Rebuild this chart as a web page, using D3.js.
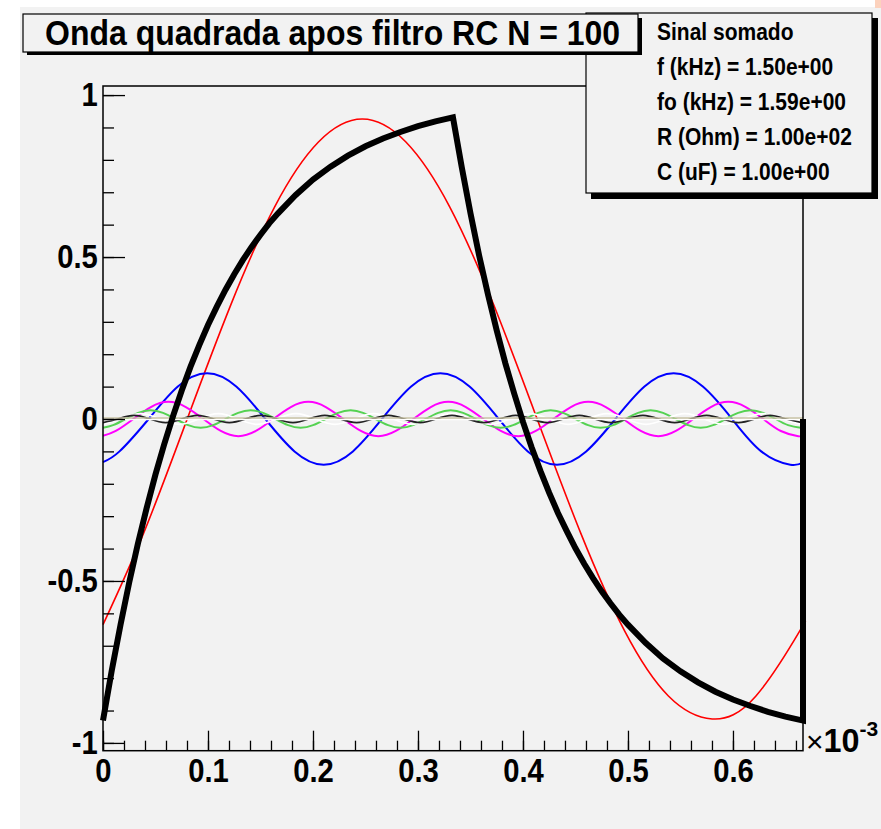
<!doctype html>
<html lang="en">
<head>
<meta charset="utf-8">
<title>Onda quadrada apos filtro RC</title>
<style>
  * { margin: 0; padding: 0; box-sizing: border-box; }
  body { background: #fff; }
  svg text { font-family: "Liberation Sans", Arial, sans-serif; font-weight: bold; fill: #000; }
</style>
</head>
<body>
<div id="container"></div>
<script src="https://cdn.jsdelivr.net/npm/d3@7"></script>
<script>
// time in ms (axis shows x10^-3 s), amplitudes in volts (normalised)

// harmonic n=1 (red)
const h1T = [0, 0.0385, 0.0802, 0.1219, 0.1635, 0.2052, 0.2469, 0.2885, 0.3302, 0.3719, 0.4135, 0.4552, 0.4969, 0.5385, 0.5802, 0.6219, 0.6635, 0.6667];
const h1V = [-0.635, -0.354, 0, 0.354, 0.655, 0.855, 0.926, 0.855, 0.655, 0.354, 0, -0.354, -0.655, -0.855, -0.926, -0.855, -0.655, -0.635];

// harmonic n=3 (blue)
const h3T = [0, 0.0157, 0.0435, 0.0713, 0.0991, 0.1269, 0.1546, 0.1824, 0.2102, 0.2380, 0.2657, 0.2935, 0.3213, 0.3491, 0.3769, 0.4046, 0.4324, 0.4602, 0.4880, 0.5157, 0.5435, 0.5713, 0.5991, 0.6269, 0.6546, 0.6667];
const h3V = [-0.133, -0.100, 0, 0.100, 0.141, 0.100, 0, -0.100, -0.141, -0.100, 0, 0.100, 0.141, 0.100, 0, -0.100, -0.141, -0.100, 0, 0.100, 0.141, 0.100, 0, -0.100, -0.141, -0.133];

// harmonic n=5 (magenta)
const h5T = [0, 0.0122,
  0.0289, 0.0456, 0.0622, 0.0789, 0.0956, 0.1122, 0.1289, 0.1456,
  0.1622, 0.1789, 0.1956, 0.2122, 0.2289, 0.2456, 0.2622, 0.2789,
  0.2956, 0.3122, 0.3289, 0.3456, 0.3622, 0.3789, 0.3956, 0.4122,
  0.4289, 0.4456, 0.4622, 0.4789, 0.4956, 0.5122, 0.5289, 0.5456,
  0.5622, 0.5789, 0.5956, 0.6122, 0.6289, 0.6456, 0.6622,
  0.6667];
const h5V = [-0.052, -0.037,
  0, 0.037, 0.053, 0.037, 0, -0.037, -0.053, -0.037,
  0, 0.037, 0.053, 0.037, 0, -0.037, -0.053, -0.037,
  0, 0.037, 0.053, 0.037, 0, -0.037, -0.053, -0.037,
  0, 0.037, 0.053, 0.037, 0, -0.037, -0.053, -0.037,
  0, 0.037, 0.053, 0.037, 0, -0.037, -0.053,
  -0.052];

// harmonic n=7 (green)
const h7T = [0, 0.0096,
  0.0215, 0.0334, 0.0453, 0.0572, 0.0691, 0.0811, 0.0930, 0.1049,
  0.1168, 0.1287, 0.1406, 0.1525, 0.1644, 0.1763, 0.1882, 0.2001,
  0.2120, 0.2239, 0.2358, 0.2477, 0.2596, 0.2715, 0.2834, 0.2953,
  0.3072, 0.3192, 0.3311, 0.3430, 0.3549, 0.3668, 0.3787, 0.3906,
  0.4025, 0.4144, 0.4263, 0.4382, 0.4501, 0.4620, 0.4739, 0.4858,
  0.4977, 0.5096, 0.5215, 0.5334, 0.5453, 0.5573, 0.5692, 0.5811,
  0.5930, 0.6049, 0.6168, 0.6287, 0.6406, 0.6525, 0.6644,
  0.6667];
const h7V = [-0.027, -0.019,
  0, 0.019, 0.027, 0.019, 0, -0.019, -0.027, -0.019,
  0, 0.019, 0.027, 0.019, 0, -0.019, -0.027, -0.019,
  0, 0.019, 0.027, 0.019, 0, -0.019, -0.027, -0.019,
  0, 0.019, 0.027, 0.019, 0, -0.019, -0.027, -0.019,
  0, 0.019, 0.027, 0.019, 0, -0.019, -0.027, -0.019,
  0, 0.019, 0.027, 0.019, 0, -0.019, -0.027, -0.019,
  0, 0.019, 0.027, 0.019, 0, -0.019, -0.027,
  -0.027];

// harmonic n=9 (white)
const h9T = [0,
  0.0171, 0.0357, 0.0542, 0.0727, 0.0912, 0.1097, 0.1283, 0.1468, 0.1653,
  0.1838, 0.2023, 0.2208, 0.2394, 0.2579, 0.2764, 0.2949, 0.3134, 0.3320,
  0.3505, 0.3690, 0.3875, 0.4060, 0.4246, 0.4431, 0.4616, 0.4801, 0.4986,
  0.5171, 0.5357, 0.5542, 0.5727, 0.5912, 0.6097, 0.6283, 0.6468, 0.6653,
  0.6667];
const h9V = [-0.0165,
  0, 0.0166, 0, -0.0166, 0, 0.0166, 0, -0.0166, 0,
  0.0166, 0, -0.0166, 0, 0.0166, 0, -0.0166, 0, 0.0166,
  0, -0.0166, 0, 0.0166, 0, -0.0166, 0, 0.0166, 0,
  -0.0166, 0, 0.0166, 0, -0.0166, 0, 0.0166, 0, -0.0166,
  -0.0165];

// harmonic n=11 (dark grey)
const h11T = [0,
  0.0142, 0.0294, 0.0445, 0.0597, 0.0748, 0.0900, 0.1051, 0.1203, 0.1354, 0.1506, 0.1657,
  0.1809, 0.1961, 0.2112, 0.2264, 0.2415, 0.2567, 0.2718, 0.2870, 0.3021, 0.3173, 0.3324,
  0.3476, 0.3627, 0.3779, 0.3930, 0.4082, 0.4233, 0.4385, 0.4536, 0.4688, 0.4839, 0.4991,
  0.5142, 0.5294, 0.5445, 0.5597, 0.5748, 0.5900, 0.6052, 0.6203, 0.6355, 0.6506, 0.6658,
  0.6667];
const h11V = [-0.011,
  0, 0.011, 0, -0.011, 0, 0.011, 0, -0.011, 0, 0.011, 0,
  -0.011, 0, 0.011, 0, -0.011, 0, 0.011, 0, -0.011, 0, 0.011,
  0, -0.011, 0, 0.011, 0, -0.011, 0, 0.011, 0, -0.011, 0,
  0.011, 0, -0.011, 0, 0.011, 0, -0.011, 0, 0.011, 0, -0.011,
  -0.011];

// higher harmonics, all squeezed onto the zero line
const restT = [0, 0.6667];
const restBeigeV = [0.003, 0.003];
const restWhiteV = [-0.002, -0.002];

// summed signal (thick black)
const sumT = [0, 0.0083, 0.0167, 0.025, 0.0333, 0.0417, 0.05, 0.0583, 0.0667, 0.075, 0.0833,
  0.0917, 0.1, 0.1083, 0.1167, 0.125, 0.1333, 0.1417, 0.15, 0.1583, 0.1667,
  0.1833, 0.2, 0.2167, 0.2333, 0.25, 0.2667, 0.2833, 0.3, 0.3167, 0.3333,
  0.3417, 0.35, 0.3583, 0.3667, 0.375, 0.3833, 0.3917, 0.4, 0.4083, 0.4167,
  0.425, 0.4333, 0.4417, 0.45, 0.4583, 0.4667, 0.475, 0.4833, 0.4917, 0.5,
  0.5167, 0.5333, 0.55, 0.5667, 0.5833, 0.6, 0.6167, 0.6333, 0.65, 0.6667, 0.6667];
const sumV = [-0.931, -0.777, -0.635, -0.504, -0.384, -0.273, -0.171, -0.078, 0.009, 0.088, 0.161,
  0.228, 0.290, 0.346, 0.399, 0.447, 0.491, 0.532, 0.569, 0.604, 0.635,
  0.691, 0.739, 0.779, 0.813, 0.842, 0.866, 0.886, 0.904, 0.919, 0.931,
  0.777, 0.635, 0.504, 0.384, 0.273, 0.171, 0.078, -0.009, -0.088, -0.161,
  -0.228, -0.290, -0.346, -0.399, -0.447, -0.491, -0.532, -0.569, -0.604, -0.635,
  -0.691, -0.739, -0.779, -0.813, -0.842, -0.866, -0.886, -0.904, -0.919, -0.931, 0];

const xMajor = [0, 0.1, 0.2, 0.3, 0.4, 0.5, 0.6];
const xLabels = ['0', '0.1', '0.2', '0.3', '0.4', '0.5', '0.6'];
const yMajor = [-1, -0.5, 0, 0.5, 1];
const yLabels = ['-1', '-0.5', '0', '0.5', '1'];

const titleText = 'Onda quadrada apos filtro RC N = 100';
const statsLines = ['Sinal somado', 'f (kHz) = 1.50e+00', 'fo (kHz) = 1.59e+00', 'R (Ohm) = 1.00e+02', 'C (uF) = 1.00e+00'];

const W = 881, H = 829;
const frame = {l: 103, r: 803, t: 86, b: 750.7};

const svg = d3.select('#container').append('svg')
  .attr('width', W)
  .attr('height', H);

svg.append('rect').attr('x', 20).attr('y', 7).attr('width', W - 20).attr('height', H - 7).attr('fill', '#f2f2f2');
svg.append('rect').attr('x', 875).attr('y', 0).attr('width', 6).attr('height', 8).attr('fill', '#fcd2bd');

const x = d3.scaleLinear().domain([0, 0.6667]).range([frame.l, frame.r]);
const y = d3.scaleLinear().domain([-1.024, 1.028]).range([frame.b, frame.t]);

const gPlot = svg.append('g');

const series = [
  {t: h1T, v: h1V, color: '#ff0000', w: 1.6},
  {t: h3T, v: h3V, color: '#0000ff', w: 2},
  {t: h5T, v: h5V, color: '#ff00ff', w: 2},
  {t: h7T, v: h7V, color: '#55d252', w: 2},
  {t: h9T, v: h9V, color: '#ffffff', w: 1.6},
  {t: h11T, v: h11V, color: '#222222', w: 1.8},
  {t: restT, v: restBeigeV, color: '#c9c3a6', w: 1.6},
  {t: restT, v: restWhiteV, color: '#ffffff', w: 1.4},
];

const line = d3.line().x(d => x(d[0])).y(d => y(d[1])).curve(d3.curveNatural);

series.forEach(s => {
  gPlot.append('path')
    .datum(d3.zip(s.t, s.v))
    .attr('d', line)
    .attr('fill', 'none')
    .attr('stroke', s.color)
    .attr('stroke-width', s.w);
});

gPlot.append('path')
  .datum(d3.zip(sumT, sumV))
  .attr('d', d3.line().x(d => x(d[0])).y(d => y(d[1])))
  .attr('fill', 'none')
  .attr('stroke', '#000')
  .attr('stroke-width', 6)
  .attr('stroke-linejoin', 'miter');

// frame
svg.append('rect')
  .attr('x', frame.l).attr('y', frame.t)
  .attr('width', frame.r - frame.l).attr('height', frame.b - frame.t)
  .attr('fill', 'none').attr('stroke', '#000').attr('stroke-width', 1.5);

// x axis: minor + major ticks pointing inside
svg.append('g')
  .attr('transform', `translate(0,${frame.b})`)
  .call(d3.axisBottom(x).tickValues(d3.range(0, 0.667, 0.02)).tickSize(-10).tickFormat(''))
  .call(g => g.select('.domain').remove());
svg.append('g')
  .attr('transform', `translate(0,${frame.b})`)
  .call(d3.axisBottom(x).tickValues(xMajor).tickSize(-20).tickPadding(7)
    .tickFormat((d, i) => xLabels[i]))
  .call(g => g.select('.domain').remove());

svg.append('g')
  .attr('transform', `translate(${frame.l},0)`)
  .call(d3.axisLeft(y).tickValues(d3.range(-1, 1.001, 0.1)).tickSize(-11).tickFormat(''))
  .call(g => g.select('.domain').remove());
svg.append('g')
  .attr('transform', `translate(${frame.l},0)`)
  .call(d3.axisLeft(y).tickValues(yMajor).tickSize(-22).tickPadding(6)
    .tickFormat((d, i) => yLabels[i]))
  .call(g => g.select('.domain').remove());

svg.selectAll('.tick line').attr('stroke', '#000').attr('stroke-width', 1.3);
svg.selectAll('.tick text')
  .attr('font-size', 34)
  .attr('font-family', '"Liberation Sans", Arial, sans-serif')
  .attr('font-weight', 'bold')
  .attr('fill', '#000')
  .attr('transform', 'scale(0.86,1)');

// x10^-3 exponent
const expo = svg.append('text').attr('x', 806).attr('y', 752);
expo.append('tspan').attr('font-weight', 'normal').attr('font-size', 30).text('\u00d7');
expo.append('tspan').attr('font-size', 33).attr('textLength', 36).attr('lengthAdjust', 'spacingAndGlyphs').text('10');
expo.append('tspan').attr('font-size', 21).attr('dy', -16).text('-3');

// stats box
svg.append('rect').attr('x', 591).attr('y', 18).attr('width', 287).attr('height', 181).attr('fill', '#000');
svg.append('rect').attr('x', 586).attr('y', 13).attr('width', 286).attr('height', 180)
  .attr('fill', '#f2f2f2').attr('stroke', '#000').attr('stroke-width', 1.2);
svg.append('g').selectAll('text').data(statsLines).join('text')
  .attr('transform', (d, i) => `translate(657,${40 + i * 35}) scale(1,1.1)`)
  .attr('font-size', 21)
  .text(d => d);

// title box
svg.append('rect').attr('x', 27).attr('y', 18).attr('width', 615).attr('height', 37).attr('fill', '#000');
svg.append('rect').attr('x', 23).attr('y', 14).attr('width', 615).attr('height', 38)
  .attr('fill', '#f2f2f2').attr('stroke', '#000').attr('stroke-width', 1.2);
svg.append('text')
  .attr('transform', 'translate(45,45) scale(1,1.12)')
  .attr('font-size', 32)
  .text(titleText);
</script>
</body>
</html>
